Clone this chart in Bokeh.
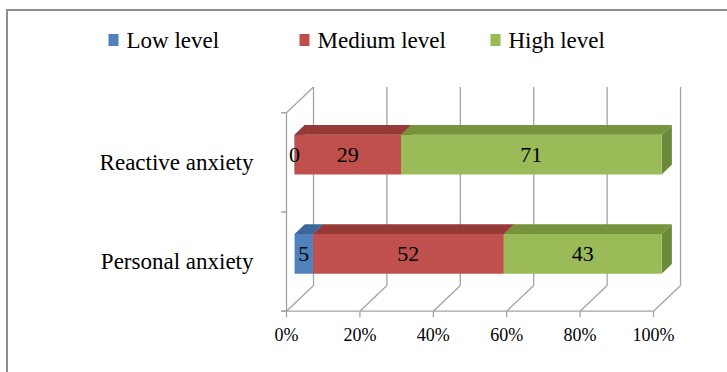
from bokeh.plotting import figure
from bokeh.models import Range1d, FixedTicker, ColumnDataSource
from bokeh.embed import file_html
from bokeh.resources import INLINE
from bokeh.core.properties import value

# ---- data ----
categories = ["Personal anxiety", "Reactive anxiety"]
series_names = ["Low level", "Medium level", "High level"]
low_level = [5, 0]
medium_level = [52, 29]
high_level = [43, 71]
x_ticks = [0, 20, 40, 60, 80, 100]
x_tick_labels = ["0%", "20%", "40%", "60%", "80%", "100%"]

# ---- style ----
front_colors = ["#4F81BD", "#C0504D", "#9BBB59"]
top_colors = ["#3C679D", "#963A37", "#77933C"]
side_colors = ["#345A8A", "#86332F", "#6B8A3A"]
grid_color = "#a3a3a3"
FONT = "Liberation Serif"

DX, DY = 7.36, 0.259      # full depth offset (data units)
F0, F1 = 0.30, 0.68       # bar depth (fraction of full depth)
HALF = 0.2                # half bar height (category units)
LEG_X0, LEG_PITCH, LEG_Y = -47.14, 52.04, 2.734   # legend row placement (data units)

n = len(categories)
values = [low_level, medium_level, high_level]

p = figure(width=727, height=372,
           x_range=Range1d(-50.68, 110.08), y_range=Range1d(-0.0736, 2.930),
           output_backend="svg", toolbar_location=None,
           min_border_left=100, min_border_right=37,
           min_border_top=20, min_border_bottom=54)
p.grid.visible = False
p.outline_line_color = None
p.border_fill_color = None
p.background_fill_color = "white"
p.styles = {
    "background-image": "linear-gradient(#8f8f8f,#8f8f8f), linear-gradient(#8f8f8f,#8f8f8f)",
    "background-size": "2px 100%, 100% 2px",
    "background-position": "6px 9px, 6px 9px",
    "background-repeat": "no-repeat",
}

# ---- wireframe (walls / floor) ----
top_y = float(n)
tick_len_x = 1.45
tick_len_y = 0.06
p.segment(x0=[t + DX for t in x_ticks], y0=[DY] * len(x_ticks),
          x1=[t + DX for t in x_ticks], y1=[top_y + DY] * len(x_ticks),
          line_color=grid_color, line_width=1.3)
p.segment(x0=x_ticks, y0=[0] * len(x_ticks),
          x1=[t + DX for t in x_ticks], y1=[DY] * len(x_ticks),
          line_color=grid_color, line_width=1.3)
p.segment(x0=[-tick_len_x], y0=[0], x1=[x_ticks[-1]], y1=[0],
          line_color=grid_color, line_width=1.3)
p.segment(x0=x_ticks, y0=[0] * len(x_ticks), x1=x_ticks, y1=[-tick_len_y] * len(x_ticks),
          line_color=grid_color, line_width=1.3)
p.segment(x0=[0, 0], y0=[0, top_y], x1=[0, DX], y1=[top_y, top_y + DY],
          line_color=grid_color, line_width=1.3)
bounds = list(range(n + 1))
p.segment(x0=[-tick_len_x] * len(bounds), y0=bounds, x1=[0] * len(bounds), y1=bounds,
          line_color=grid_color, line_width=1.3)

# ---- bars ----
lab_x, lab_y, lab_t = [], [], []
cum = [0.0] * n
for k, vals in enumerate(values):
    starts = cum[:]
    ends = [s + v for s, v in zip(starts, vals)]
    cum = ends
    centers = [i + 0.5 for i in range(n)]
    bot0 = [c - HALF + F0 * DY for c in centers]
    top0 = [c + HALF + F0 * DY for c in centers]
    bot1 = [c - HALF + F1 * DY for c in centers]
    top1 = [c + HALF + F1 * DY for c in centers]
    sxs = [[e + F0 * DX, e + F1 * DX, e + F1 * DX, e + F0 * DX] for e in ends]
    sys_ = [[b0, b1, t1, t0] for b0, b1, t1, t0 in zip(bot0, bot1, top1, top0)]
    p.patches(xs=sxs, ys=sys_, fill_color=side_colors[k], line_color=None)
    src = ColumnDataSource(dict(left=[s + F0 * DX for s in starts],
                                right=[e + F0 * DX for e in ends],
                                bottom=bot0, top=top0))
    p.quad(left="left", right="right", bottom="bottom", top="top", source=src,
           fill_color=front_colors[k], line_color=None)
    txs = [[s + F0 * DX, e + F0 * DX, e + F1 * DX, s + F1 * DX] for s, e in zip(starts, ends)]
    tys = [[t0, t0, t1, t1] for t0, t1 in zip(top0, top1)]
    p.patches(xs=txs, ys=tys, fill_color=top_colors[k], line_color=None)
    lab_x += [(s + e) / 2 + F0 * DX for s, e in zip(starts, ends)]
    lab_y += [c + F0 * DY for c in centers]
    lab_t += [str(v) for v in vals]

p.text(x=lab_x, y=lab_y, text=lab_t, text_align="center", text_baseline="middle",
       text_font=value(FONT), text_font_size="22px", text_color="black")

# ---- category labels (left of the front wall) ----
p.text(x=[0] * n, y=[i + 0.5 for i in range(n)], text=categories,
       x_offset=-33, text_align="right", text_baseline="middle",
       text_font=value(FONT), text_font_size="23px", text_color="black")

# ---- legend (square + label per series) ----
leg_x = [LEG_X0 + k * LEG_PITCH for k in range(len(series_names))]
leg_y = [LEG_Y] * len(series_names)
p.rect(x=leg_x, y=leg_y, width=10, height=12, width_units="screen", height_units="screen",
       fill_color=front_colors, line_color=None)
p.text(x=leg_x, y=leg_y, text=series_names, x_offset=13, y_offset=1,
       text_align="left", text_baseline="middle",
       text_font=value(FONT), text_font_size="23px", text_color="black")

# ---- axes ----
p.yaxis.visible = False
p.xaxis.ticker = FixedTicker(ticks=x_ticks)
p.xaxis.major_label_overrides = {t: l for t, l in zip(x_ticks, x_tick_labels)}
ax = p.xaxis[0]
ax.axis_line_color = None
ax.major_tick_line_color = None
ax.minor_tick_line_color = None
ax.major_tick_out = 0
ax.major_tick_in = 0
ax.major_label_text_font = FONT
ax.major_label_text_color = "black"
ax.major_label_text_font_size = "18px"
ax.major_label_standoff = 6

open("out.html", "w").write(file_html(p, INLINE))
